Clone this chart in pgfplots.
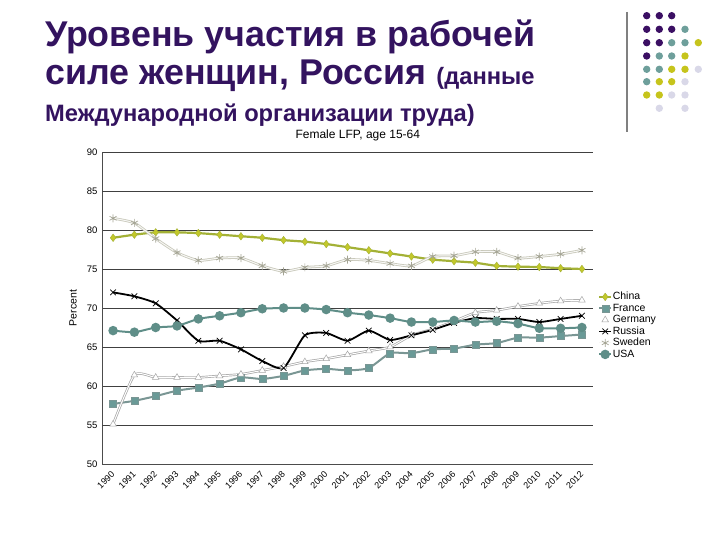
\documentclass[border=0pt]{standalone}
\usepackage{pgfplots}
\pgfplotsset{compat=1.18}
\usepackage{pgfplotstable}
\usepackage{fontspec}
\setmainfont{Liberation Sans}
\setsansfont{Liberation Sans}
\definecolor{titlepurple}{HTML}{33135F}
\definecolor{dotpurple}{HTML}{3B0F63}
\definecolor{dotteal}{HTML}{6E9F9B}
\definecolor{dotyellow}{HTML}{C6C41C}
\definecolor{dotlav}{HTML}{D9D8E8}
\definecolor{chinaline}{HTML}{A3B136}
\definecolor{chinafill}{HTML}{C3C82A}
\definecolor{franceline}{HTML}{7A9694}
\definecolor{francefill}{HTML}{6A9A97}
\definecolor{usacol}{HTML}{5F8E88}
\definecolor{swedenline}{HTML}{C8C8BA}
\definecolor{swedenmark}{HTML}{A4A494}

\pgfplotstableread{
year china france germany russia sweden usa
1990 79.0  57.7 55.1 72.0 81.5 67.1
1991 79.4  58.1 61.4 71.5 80.9 66.9
1992 79.7  58.7 61.1 70.6 78.9 67.5
1993 79.7  59.4 61.1 68.4 77.1 67.7
1994 79.6  59.8 61.1 65.8 76.1 68.6
1995 79.4  60.3 61.3 65.8 76.4 69.0
1996 79.2  61.1 61.5 64.7 76.4 69.4
1997 79.0  60.9 62.0 63.2 75.4 69.9
1998 78.7  61.3 62.5 62.3 74.7 70.0
1999 78.5  62.0 63.1 66.5 75.2 70.0
2000 78.2  62.2 63.5 66.8 75.4 69.8
2001 77.8  62.0 64.0 65.8 76.2 69.4
2002 77.4  62.3 64.5 67.1 76.1 69.1
2003 77.0  64.2 65.0 65.9 75.7 68.7
2004 76.6  64.2 66.5 66.5 75.4 68.2
2005 76.2  64.7 67.3 67.2 76.6 68.2
2006 76.0  64.8 68.3 68.1 76.7 68.4
2007 75.8  65.3 69.4 68.7 77.2 68.2
2008 75.4  65.5 69.7 68.6 77.2 68.3
2009 75.3  66.2 70.2 68.6 76.4 68.0
2010 75.25 66.2 70.6 68.2 76.6 67.4
2011 75.1  66.4 70.9 68.6 76.9 67.4
2012 75.0  66.6 71.0 69.0 77.4 67.5
}\lfp

\begin{document}
\begin{tikzpicture}[x=1pt,y=1pt]
\useasboundingbox (0,0) rectangle (720,540);
% title
\node[anchor=base west, inner sep=0, text=titlepurple, font=\fontsize{35.8}{40}\selectfont\bfseries] at (45,493.3) {Уровень участия в рабочей};
\node[anchor=base west, inner sep=0, text=titlepurple] at (45,455) {\fontsize{35.8}{40}\selectfont\bfseries силе женщин, Россия \fontsize{23.7}{27}\selectfont(данные};
\node[anchor=base west, inner sep=0, text=titlepurple, font=\fontsize{23.7}{27}\selectfont\bfseries] at (45,418.3) {Международной организации труда)};
% decoration
\draw[line width=2pt, draw=gray] (626.7,528) -- (626.7,408);
\foreach \c/\x/\y in {
dotpurple/646.7/15.7, dotpurple/659.3/15.7, dotpurple/671.7/15.7,
dotpurple/646.7/29.3, dotpurple/659.3/29.3, dotpurple/671.7/29.3, dotteal/685/29.3,
dotpurple/646.7/42.7, dotpurple/659.3/42.7, dotteal/671.7/42.7, dotteal/685/42.7, dotyellow/698.3/42.7,
dotpurple/646.7/56, dotteal/659.3/56, dotteal/671.7/56, dotyellow/685/56,
dotteal/646.7/69.3, dotteal/659.3/69.3, dotyellow/671.7/69.3, dotyellow/685/69.3, dotlav/698.3/69.3,
dotteal/646.7/81.7, dotyellow/659.3/81.7, dotyellow/671.7/81.7, dotlav/685/81.7,
dotyellow/646.7/95, dotyellow/659.3/95, dotlav/671.7/95, dotlav/685/95,
dotlav/659.3/108.3, dotlav/685/108.3}
{\fill[\c] (\x,540-\y) circle (3.7);}

\begin{axis}[
  at={(102pt,76pt)}, anchor=south west,
  scale only axis, width=491pt, height=312pt,
  xmin=1989.48, xmax=2012.52, ymin=50, ymax=90,
  xtick=data,
  ytick={50,60,70,80,90},
  extra y ticks={55,65,75,85},
  extra y tick style={grid style={draw=black!40, line width=1.8pt}},
  ymajorgrids,
  major grid style={draw=black!75, line width=0.6pt},
  axis x line*=bottom, axis y line*=left,
  axis line style={-, draw=black!70, line width=0.8pt},
  tick style={draw=none},
  /pgf/number format/assume math mode=true,
  /pgf/number format/1000 sep={},
  ticklabel style={font=\fontsize{9.5}{10}\selectfont},
  xticklabel style={rotate=45, anchor=east, inner sep=0pt, font=\fontsize{9}{10}\selectfont},
  xticklabel shift=9pt,
  yticklabel style={xshift=-1pt},
  title={Female LFP, age 15-64},
  title style={at={(0.521,1)}, anchor=base, yshift=7pt, font=\fontsize{12}{13}\selectfont},
  ylabel={Percent},
  ylabel style={at={(axis description cs:0,0.5)}, anchor=center, yshift=29pt, font=\fontsize{10.5}{11}\selectfont},
  legend style={at={(1.01,0.553)}, anchor=north west, draw=none, fill=none,
    font=\fontsize{10.5}{11}\selectfont, row sep=1pt, inner sep=0pt,
    nodes={inner sep=0.5pt, text height=7.5pt, text depth=2pt}},
  legend cell align=left,
  legend image code/.code={\draw[mark repeat=2, mark phase=2] plot coordinates {(0pt,0pt)(6pt,0pt)(12pt,0pt)};},
  every axis plot/.append style={smooth, tension=0.35},
]
\addplot[chinaline, line width=2.2pt, mark=diamond*, mark size=3.8pt, mark options={fill=chinafill, draw=chinaline, line width=0.4pt}] table[x=year,y=china] {\lfp};
\addlegendentry{China}
\addplot[franceline, line width=2pt, mark=square*, mark size=3.5pt, mark options={fill=francefill, draw=franceline, line width=0.4pt}] table[x=year,y=france] {\lfp};
\addlegendentry{France}
\addplot[forget plot, black!35, line width=2.4pt] table[x=year,y=germany] {\lfp};
\addplot[white, line width=1pt, mark=triangle*, mark size=3.8pt, mark options={fill=white, draw=black!35, line width=0.5pt}] table[x=year,y=germany] {\lfp};
\addlegendentry{Germany}
\addplot[black, line width=1.8pt, mark=x, mark size=4pt, mark options={line width=0.7pt}] table[x=year,y=russia] {\lfp};
\addlegendentry{Russia}
\addplot[forget plot, swedenline, line width=2.6pt] table[x=year,y=sweden] {\lfp};
\addplot[white!85!swedenline, line width=1pt, mark=asterisk, mark size=4pt, mark options={draw=swedenmark, line width=0.7pt}] table[x=year,y=sweden] {\lfp};
\addlegendentry{Sweden}
\addplot[usacol, line width=2pt, mark=*, mark size=3.7pt, mark options={fill=usacol, draw=usacol}] table[x=year,y=usa] {\lfp};
\addlegendentry{USA}
\end{axis}
\end{tikzpicture}
\end{document}
